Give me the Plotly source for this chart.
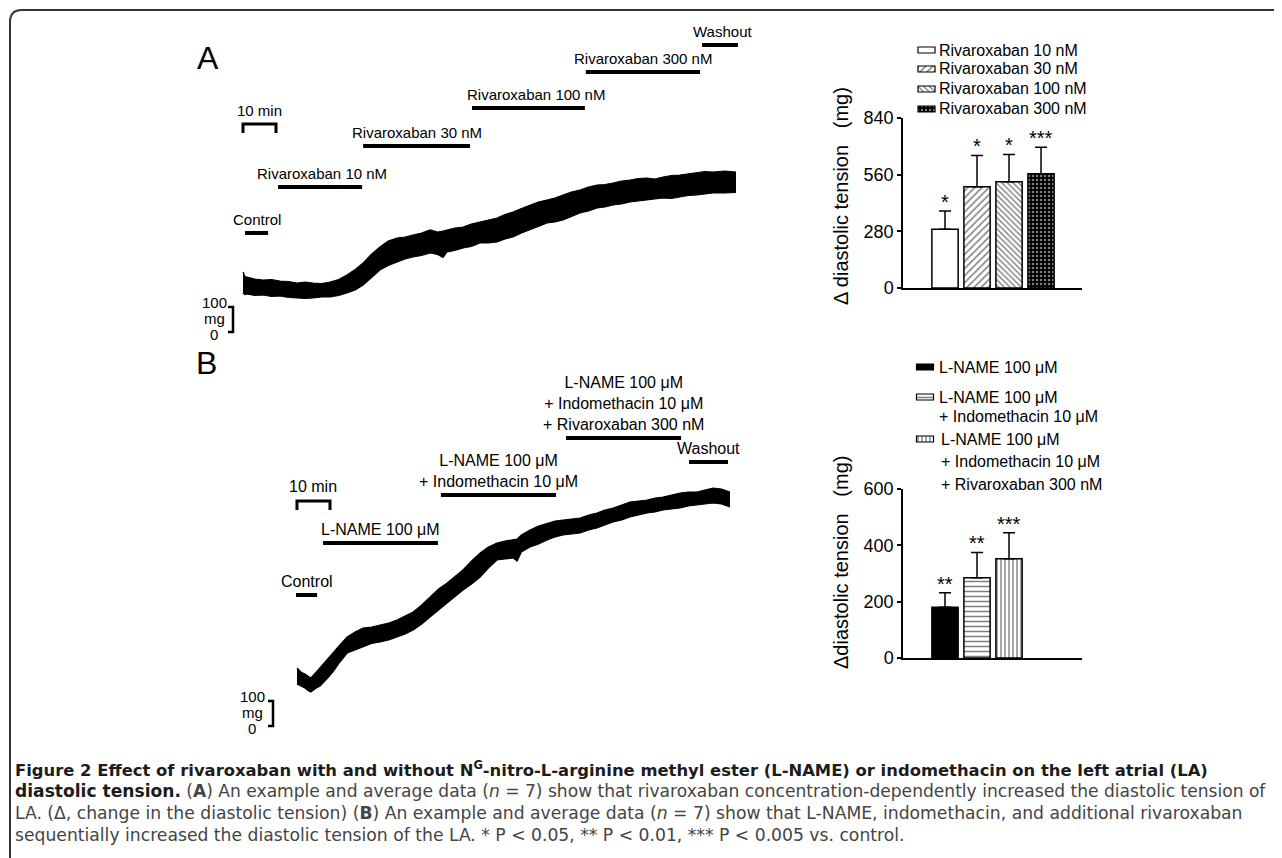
import plotly.graph_objects as go

W, H = 1282, 858
OFF = 8  # page body margin of the written html page
def fx(x): return (x - OFF) / W
def fy(y): return 1 - (y - OFF) / H

# ---------------- DATA ----------------
# Panel A example trace (time in min, diastolic tension envelope in mg)
tA = [0, 0.6, 1.2, 3.5, 6.1, 8.6, 11.2, 13.8, 16.4, 18.8, 21.2, 23.8, 26.4, 29.0, 31.5, 34.0,
      36.4, 39.0, 41.5, 44.0, 46.7, 49.1, 51.5, 54.1, 56.7, 59.0, 60.6, 61.8, 64.2, 66.7, 69.2,
      71.8, 74.4, 77.0, 79.4, 81.8, 84.4, 87.0, 89.5, 92.1, 94.5, 97.0, 99.5, 102.1, 104.7,
      107.3, 109.7, 112.1, 114.7, 117.3, 119.8, 122.4, 124.8, 127.3, 129.8, 132.4, 135.0,
      137.6, 140.0, 142.4, 146.0, 149.4]
upA = [240, 222, 220, 212, 208, 210, 204, 202, 196, 200, 196, 194, 200, 210, 228, 250,
       276, 312, 340, 364, 376, 380, 388, 396, 408, 400, 404, 408, 416, 420, 432,
       440, 448, 456, 470, 480, 494, 508, 520, 528, 536, 548, 560, 568, 580,
       588, 590, 596, 604, 608, 614, 616, 612, 620, 626, 628, 632,
       636, 642, 640, 644, 640]
loA = [156, 150, 152, 146, 148, 142, 144, 138, 136, 134, 136, 140, 140, 146, 156, 168,
       188, 220, 248, 266, 280, 292, 300, 306, 316, 310, 298, 320, 326, 336, 342,
       356, 356, 360, 372, 380, 396, 408, 422, 436, 440, 448, 462, 476, 484,
       496, 500, 508, 512, 520, 524, 528, 530, 536, 534, 540, 546,
       548, 552, 556, 556, 558]

# Panel B example trace
tB = [0, 1.2, 2.4, 3.3, 4.2, 5.6, 7.0, 9.0, 10.9, 13.0, 15.2, 17.6, 20.0, 22.6, 25.2, 27.8,
      30.3, 32.8, 35.2, 37.8, 40.3, 42.9, 45.5, 47.9, 50.3, 52.9, 55.5, 58.0, 60.6, 63.0,
      65.5, 66.7, 68.0, 70.6, 73.2, 75.8, 78.2, 80.6, 83.2, 85.8, 88.4, 90.9, 93.3, 95.8,
      98.4, 100.9, 103.5, 106.1, 108.5, 110.9, 113.5, 116.1, 118.6, 121.2, 123.6, 126.1,
      128.6, 131.2]
upB = [232, 216, 208, 200, 192, 212, 232, 262, 292, 324, 356, 376, 392, 396, 404, 412,
       424, 440, 456, 484, 516, 548, 572, 600, 624, 660, 692, 716, 732, 740,
       744, 748, 764, 784, 800, 812, 820, 824, 828, 832, 844, 852, 864, 872,
       884, 896, 900, 904, 912, 916, 924, 932, 936, 936, 944, 952,
       948, 936]
loB = [168, 160, 152, 142, 136, 150, 160, 188, 216, 256, 292, 304, 316, 330, 336, 344,
       356, 368, 384, 408, 436, 464, 492, 520, 544, 568, 596, 632, 664, 668,
       672, 660, 696, 716, 728, 744, 756, 764, 768, 772, 784, 792, 804, 816,
       824, 836, 844, 852, 856, 864, 868, 872, 880, 884, 888, 892,
       888, 876]

# Protocol periods (min)
protA_labels = ["Control", "Rivaroxaban 10 nM", "Rivaroxaban 30 nM", "Rivaroxaban 100 nM",
                "Rivaroxaban 300 nM", "Washout"]
protA_start = [0.6, 10.6, 36.4, 69.4, 103.9, 139.1]
protA_end = [7.6, 36.1, 68.8, 103.6, 138.5, 150.0]

protB_labels = ["Control", "L-NAME 100 μM", "L-NAME 100 μM<br>+ Indomethacin 10 μM",
                "L-NAME 100 μM<br>+ Indomethacin 10 μM<br>+ Rivaroxaban 300 nM", "Washout"]
protB_start = [-0.3, 7.9, 43.6, 81.5, 118.8]
protB_end = [6.1, 42.7, 78.5, 116.4, 130.6]

# Average data
barA_names = ["Rivaroxaban 10 nM", "Rivaroxaban 30 nM", "Rivaroxaban 100 nM", "Rivaroxaban 300 nM"]
barA_vals = [290, 500, 525, 565]
barA_err = [90, 155, 135, 130]
barA_sig = ["*", "*", "*", "***"]
barA_ticks = [0, 280, 560, 840]

barB_names = ["L-NAME 100 μM", "L-NAME 100 μM<br>+ Indomethacin 10 μM",
              "L-NAME 100 μM<br>+ Indomethacin 10 μM<br>+ Rivaroxaban 300 nM"]
barB_vals = [180, 285, 352]
barB_err = [52, 90, 93]
barB_sig = ["**", "**", "***"]
barB_ticks = [0, 200, 400, 600]

# ---------------- FIGURE ----------------
FONT = "Arial, Liberation Sans, sans-serif"
fig = go.Figure()

for t, lo, up, xa, ya in [(tA, loA, upA, "x", "y"), (tB, loB, upB, "x2", "y2")]:
    fig.add_trace(go.Scatter(x=t, y=lo, mode="lines", line=dict(color="black", width=1.2),
                             xaxis=xa, yaxis=ya, showlegend=False, hoverinfo="skip"))
    fig.add_trace(go.Scatter(x=t, y=up, mode="lines", line=dict(color="black", width=1.2),
                             fill="tonexty", fillcolor="black",
                             xaxis=xa, yaxis=ya, showlegend=False, hoverinfo="skip"))

patA = [dict(shape=""), dict(shape="/", fgcolor="black", bgcolor="white", size=5, solidity=0.3),
        dict(shape="\\", fgcolor="black", bgcolor="white", size=4, solidity=0.35),
        dict(shape=".", fgcolor="white", bgcolor="black", size=4, solidity=0.3)]
colA = ["white", "white", "white", "black"]
patB = [dict(shape=""), dict(shape="-", fgcolor="black", bgcolor="white", size=5, solidity=0.3),
        dict(shape="|", fgcolor="black", bgcolor="white", size=4, solidity=0.35)]
colB = ["black", "white", "white"]

for names, vals, errs, pats, cols, xa, ya in [
        (barA_names, barA_vals, barA_err, patA, colA, "x3", "y3"),
        (barB_names, barB_vals, barB_err, patB, colB, "x4", "y4")]:
    for i in range(len(names)):
        fig.add_trace(go.Bar(x=[names[i]], y=[vals[i]], width=0.82, name=names[i], showlegend=False,
                             marker=dict(color=cols[i], line=dict(color="black", width=1.5),
                                         pattern=pats[i]),
                             error_y=dict(type="data", symmetric=False, array=[errs[i]],
                                          arrayminus=[0], color="black", thickness=1.5, width=6),
                             xaxis=xa, yaxis=ya))

shapes = []
ann = []

def txt(**kw):
    d = dict(showarrow=False, xanchor="center", yanchor="middle")
    d.update(kw)
    ann.append(d)

# manual legends (swatch bars on a pixel-space axis + text)
legA_y = [50, 69, 89, 109]
for i, nm in enumerate(barA_names):
    fig.add_trace(go.Bar(x=[926.5], y=[6], base=[legA_y[i] - 3], width=[17], showlegend=False,
                         marker=dict(color=colA[i], line=dict(color="black", width=1.2), pattern=patA[i]),
                         xaxis="x5", yaxis="y5", hoverinfo="skip"))
    txt(xref="paper", yref="paper", x=fx(937), y=fy(legA_y[i]), xanchor="left", text=nm,
        font=dict(size=16, family=FONT, color="black"))
legB_y = [[367], [397, 416], [439, 461, 484]]
for i, nm in enumerate(barB_names):
    fig.add_trace(go.Bar(x=[925], y=[6], base=[legB_y[i][0] - 3], width=[17], showlegend=False,
                         marker=dict(color=colB[i], line=dict(color="black", width=1.2), pattern=patB[i]),
                         xaxis="x5", yaxis="y5", hoverinfo="skip"))
    for j, part in enumerate(nm.split("<br>")):
        txt(xref="paper", yref="paper", x=fx(937 if i < 2 else 939), y=fy(legB_y[i][j]),
            xanchor="left", text=part, font=dict(size=16, family=FONT, color="black"))

# protocol bars A
levelsA = [233, 187, 146, 108, 72, 45]
shiftA = [0, 2, 0, 8, 0, 2]
for i, lab in enumerate(protA_labels):
    shapes.append(dict(type="line", xref="x", yref="paper", x0=protA_start[i], x1=protA_end[i],
                       y0=fy(levelsA[i]), y1=fy(levelsA[i]), line=dict(color="black", width=4)))
    txt(xref="x", yref="paper", x=(protA_start[i] + protA_end[i]) / 2,
        y=fy(levelsA[i] - 3), yanchor="bottom", text=lab, xshift=shiftA[i],
        font=dict(size=15, family=FONT, color="black"))
# protocol bars B
levelsB = [595, 543, 495, 438, 462]
for i, lab in enumerate(protB_labels):
    shapes.append(dict(type="line", xref="x2", yref="paper", x0=protB_start[i], x1=protB_end[i],
                       y0=fy(levelsB[i]), y1=fy(levelsB[i]), line=dict(color="black", width=4)))
    txt(xref="x2", yref="paper", x=(protB_start[i] + protB_end[i]) / 2,
        y=fy(levelsB[i] - 3), yanchor="bottom", text=lab,
        font=dict(size=16, family=FONT, color="black"))

# 10 min scale brackets
for xr, top, fs, ly in [("x", 124, 15, 111), ("x2", 501, 16, 486)]:
    shapes.append(dict(type="path", xref=xr, yref="paper",
                       path=f"M 0,{fy(top+9)} L 0,{fy(top)} L 10,{fy(top)} L 10,{fy(top+9)}",
                       line=dict(color="black", width=3)))
    txt(xref=xr, yref="paper", x=5, y=fy(ly), text="10 min",
        font=dict(size=fs, family=FONT, color="black"))

# 100 mg scale brackets
for yr, xb, xt, fs in [("y", 233, 214, 15), ("y2", 273, 252, 15)]:
    shapes.append(dict(type="path", xref="paper", yref=yr,
                       path=f"M {fx(xb-5)},100 L {fx(xb)},100 L {fx(xb)},0 L {fx(xb-5)},0",
                       line=dict(color="black", width=2.5)))
    for t_, v, ys in [("100", 100, 5), ("mg", 50, 1), ("0", 0, -2)]:
        txt(xref="paper", yref=yr, x=fx(xt), y=v, yshift=ys, text=t_, borderpad=0,
            font=dict(size=fs, family=FONT, color="black"))

# significance stars
for names, vals, errs, sig, xr, yr in [(barA_names, barA_vals, barA_err, barA_sig, "x3", "y3"),
                                       (barB_names, barB_vals, barB_err, barB_sig, "x4", "y4")]:
    for i in range(len(names)):
        txt(xref=xr, yref=yr, x=names[i], y=vals[i] + errs[i], yanchor="bottom",
            yshift=-4, text=sig[i], font=dict(size=20, family=FONT, color="black"))

# axis titles for bar charts
txt(xref="paper", yref="paper", x=fx(841), y=fy(196), text="Δ diastolic tension&nbsp;&nbsp;&nbsp;(mg)",
    textangle=-90, font=dict(size=20, family=FONT, color="black"))
txt(xref="paper", yref="paper", x=fx(841), y=fy(563), text="Δdiastolic tension&nbsp;&nbsp;&nbsp;(mg)",
    textangle=-90, font=dict(size=20, family=FONT, color="black"))

# panel letters
txt(xref="paper", yref="paper", x=fx(208), y=fy(58), text="A",
    font=dict(size=32, family=FONT, color="black"))
txt(xref="paper", yref="paper", x=fx(206), y=fy(363), text="B",
    font=dict(size=32, family=FONT, color="black"))

# caption
CF = "DejaVu Sans, sans-serif"
dark = "#1c1c1c"
cap = [
    "<b>Figure 2 Effect of rivaroxaban with and without N<sup>G</sup>-nitro-L-arginine methyl ester (L-NAME) or indomethacin on the left atrial (LA)</b>",
    f"<span style='color:{dark}'><b>diastolic tension.</b></span> (<b>A</b>) An example and average data (<i>n</i> = 7) show that rivaroxaban concentration-dependently increased the diastolic tension of",
    "LA. (Δ, change in the diastolic tension) (<b>B</b>) An example and average data (<i>n</i> = 7) show that L-NAME, indomethacin, and additional rivaroxaban",
    "sequentially increased the diastolic tension of the LA. * P &lt; 0.05, ** P &lt; 0.01, *** P &lt; 0.005 vs. control.",
]
cap_y = [769, 791, 813, 835]
cap_size = [16.4, 17.1, 17.2, 17.2]
for i, line in enumerate(cap):
    txt(xref="paper", yref="paper", x=fx(15), y=fy(cap_y[i]), xanchor="left",
        text=line, align="left", borderpad=0, borderwidth=0,
        font=dict(size=cap_size[i], family=CF, color=dark if i == 0 else "#444444"))

# frame
shapes.append(dict(type="path", xref="paper", yref="paper",
                   path=f"M {fx(10)},{fy(870)} L {fx(10)},{fy(22)} Q {fx(10)},{fy(10)} {fx(22)},{fy(10)} L {fx(1300)},{fy(10)}",
                   line=dict(color="#333333", width=2)))

hidden = dict(visible=False, showgrid=False, zeroline=False)
bar_x = dict(type="category", range=[-1.3125, 4.28], showline=True, linecolor="black", linewidth=1.5,
             ticks="", showticklabels=False, showgrid=False, zeroline=False, fixedrange=True)
bar_y = dict(showline=True, linecolor="black", linewidth=1.5, ticks="outside", ticklen=4,
             tickwidth=1.5, tickcolor="black", showgrid=False, zeroline=False,
             tickfont=dict(size=18, family=FONT, color="black"))

fig.update_layout(
    width=W, height=H, margin=dict(l=0, r=0, t=0, b=0, pad=0, autoexpand=False), autosize=False,
    paper_bgcolor="white", plot_bgcolor="rgba(0,0,0,0)", barmode="overlay", showlegend=False,
    font=dict(family=FONT, color="black"),
    xaxis=dict(domain=[fx(180), fx(780)], range=[-19.09, 162.73], anchor="y", **hidden),
    yaxis=dict(domain=[fy(345), fy(20)], range=[-52, 1248], anchor="x", **hidden),
    xaxis2=dict(domain=[fx(180), fx(780)], range=[-35.45, 146.36], anchor="y2", **hidden),
    yaxis2=dict(domain=[fy(745), fy(330)], range=[-76, 1584], anchor="x2", **hidden),
    xaxis3=dict(domain=[fx(903), fx(1082)], anchor="y3", categoryarray=barA_names, **bar_x),
    yaxis3=dict(domain=[fy(288), fy(118)], range=[0, 840], tickvals=barA_ticks, anchor="x3", **bar_y),
    xaxis4=dict(domain=[fx(903), fx(1082)], anchor="y4", categoryarray=barB_names, **bar_x),
    yaxis4=dict(domain=[fy(658), fy(489)], range=[0, 600], tickvals=barB_ticks, anchor="x4", **bar_y),
    xaxis5=dict(domain=[fx(880), fx(1000)], range=[880, 1000], anchor="y5", **hidden),
    yaxis5=dict(domain=[fy(520), fy(20)], range=[520, 20], anchor="x5", **hidden),
    shapes=shapes, annotations=ann,
)

fig.write_html("out.html")
